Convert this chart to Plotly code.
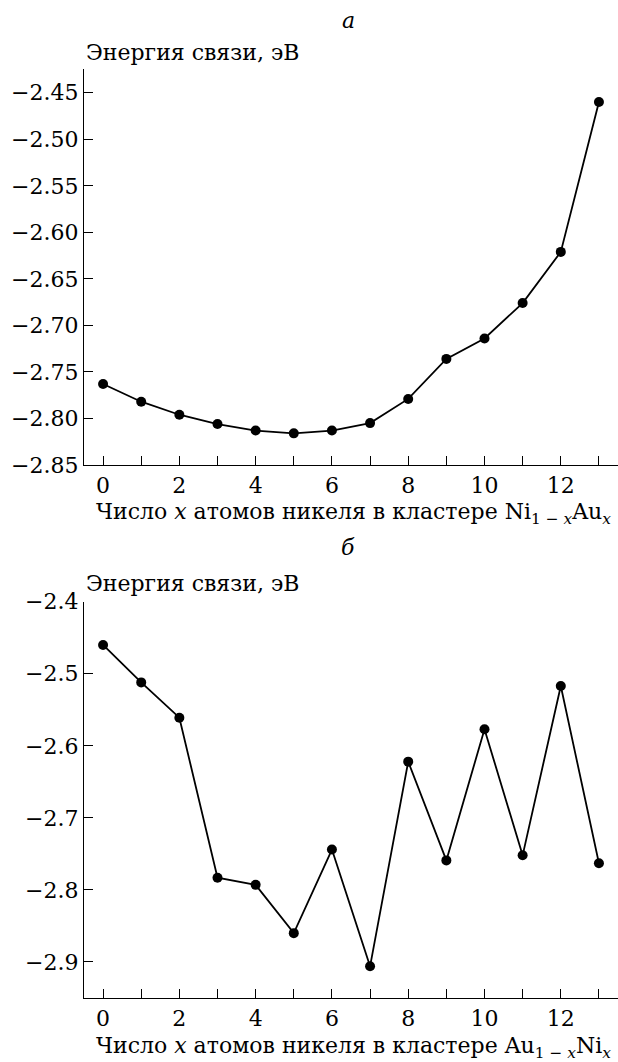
import plotly.graph_objects as go
from plotly.subplots import make_subplots

# ---- data ----
x_atoms = list(range(14))
energy_a = [-2.763, -2.782, -2.796, -2.806, -2.813, -2.816, -2.813, -2.805,
            -2.779, -2.736, -2.714, -2.676, -2.621, -2.460]
energy_b = [-2.460, -2.512, -2.561, -2.783, -2.793, -2.860, -2.744, -2.906,
            -2.622, -2.759, -2.577, -2.752, -2.517, -2.763]

x_tickvals = [0, 2, 4, 6, 8, 10, 12]
x_ticktext = ["0", "2", "4", "6", "8", "10", "12"]
ya_tickvals = [-2.45, -2.50, -2.55, -2.60, -2.65, -2.70, -2.75, -2.80, -2.85]
ya_ticktext = ["\u22122.45", "\u22122.50", "\u22122.55", "\u22122.60", "\u22122.65",
               "\u22122.70", "\u22122.75", "\u22122.80", "\u22122.85"]
yb_tickvals = [-2.4, -2.5, -2.6, -2.7, -2.8, -2.9]
yb_ticktext = ["\u22122.4", "\u22122.5", "\u22122.6", "\u22122.7", "\u22122.8", "\u22122.9"]

ylabel = "Энергия связи, эВ"
xlabel_a = "Число <i>x</i> атомов никеля в кластере Ni<sub>1 \u2212 <i>x</i></sub>Au<sub><i>x</i></sub>"
xlabel_b = "Число <i>x</i> атомов никеля в кластере Au<sub>1 \u2212 <i>x</i></sub>Ni<sub><i>x</i></sub>"

# ---- layout geometry (pixels) ----
W, H = 618, 1062
ML, MR, MT, MB = 84, 0, 69, 64
PW = W - ML - MR
PH = H - MT - MB
bottom_px = H - MB


def py(ypx):
    return (bottom_px - ypx) / PH


def px(xpx):
    return (xpx - ML) / PW


FONT = "DejaVu Serif"
FS = 22

fig = make_subplots(rows=2, cols=1)

for i, yv in enumerate([energy_a, energy_b], start=1):
    fig.add_trace(go.Scatter(
        x=x_atoms, y=yv, mode="lines+markers",
        line=dict(color="black", width=1.8),
        marker=dict(color="black", size=10),
        showlegend=False, hoverinfo="skip"), row=i, col=1)

common_x = dict(range=[-0.5, 13.5], tickvals=x_tickvals, ticktext=x_ticktext,
                ticks="inside", ticklen=9, tickwidth=1.2, tickcolor="black",
                minor=dict(dtick=1, tick0=0, ticks="inside", ticklen=9, tickwidth=1.2,
                           tickcolor="black", showgrid=False),
                showline=True, linecolor="black", linewidth=1.2,
                showgrid=False, zeroline=False,
                tickfont=dict(family=FONT, size=FS, color="black"))

fig.update_layout(
    xaxis=dict(**common_x, anchor="y", domain=[0, 1]),
    xaxis2=dict(**common_x, anchor="y2", domain=[0, 1]),
    yaxis=dict(range=[-2.85, -2.4245], domain=[py(465), py(69)],
               tickvals=ya_tickvals, ticktext=ya_ticktext,
               ticks="inside", ticklen=9, tickwidth=1.2, tickcolor="black",
               showline=True, linecolor="black", linewidth=1.2,
               showgrid=False, zeroline=False,
               tickfont=dict(family=FONT, size=FS, color="black")),
    yaxis2=dict(range=[-2.95, -2.4], domain=[py(998), py(601.7)],
                tickvals=yb_tickvals, ticktext=yb_ticktext,
                ticks="inside", ticklen=9, tickwidth=1.2, tickcolor="black",
                showline=True, linecolor="black", linewidth=1.2,
                showgrid=False, zeroline=False,
                tickfont=dict(family=FONT, size=FS, color="black")),
    width=W, height=H,
    margin=dict(l=ML, r=MR, t=MT, b=MB),
    paper_bgcolor="white", plot_bgcolor="white",
    font=dict(family=FONT, size=FS, color="black"),
)

ann = [
    dict(text="<i>а</i>", x=px(348), y=py(21)),
    dict(text=ylabel, x=px(84), y=py(53), xanchor="left"),
    dict(text=xlabel_a, x=px(353), y=py(513)),
    dict(text="<i>б</i>", x=px(348), y=py(547)),
    dict(text=ylabel, x=px(84), y=py(583), xanchor="left"),
    dict(text=xlabel_b, x=px(353), y=py(1047)),
]
for a in ann:
    fig.add_annotation(xref="paper", yref="paper", showarrow=False,
                       yanchor="middle", xanchor=a.get("xanchor", "center"),
                       x=a["x"], y=a["y"], text=a["text"],
                       font=dict(family=FONT, size=FS, color="black"))

fig.write_html("out.html")
